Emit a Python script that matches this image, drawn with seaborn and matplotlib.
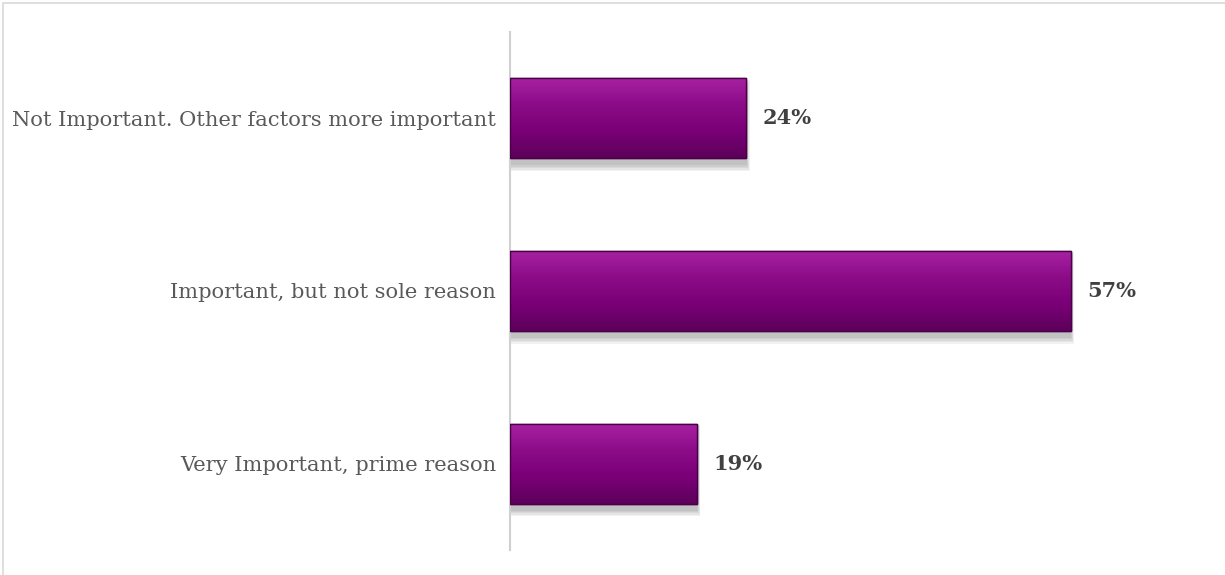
import numpy as np
import pandas as pd
import matplotlib
matplotlib.use("Agg")
import matplotlib.pyplot as plt
import seaborn as sns
from matplotlib.colors import LinearSegmentedColormap
from matplotlib.patches import Rectangle

categories = ["Not Important. Other factors more important",
              "Important, but not sole reason",
              "Very Important, prime reason"]
values = [24, 57, 19]
value_labels = ["24%", "57%", "19%"]

sns.set_theme(style="white")
plt.rcParams['font.family'] = ['DejaVu Serif']

fig = plt.figure(figsize=(12.25, 5.75), dpi=100)
ax = fig.add_axes([510/1225, 25/575, 590/1225, 518/575])

df = pd.DataFrame({"cat": categories, "val": values})
sns.barplot(data=df, x="val", y="cat", ax=ax, color="#800080", width=0.465,
            edgecolor="#4a0048", linewidth=1.0, zorder=3)

cmap = LinearSegmentedColormap.from_list("g", ["#a822a2", "#8c0c88", "#7a0077", "#5c005a"])
grad = np.linspace(0, 1, 256).reshape(-1, 1)
for p in list(ax.patches):
    x0, y0 = p.get_x(), p.get_y()
    w, h = p.get_width(), p.get_height()
    # soft shadow
    for k in range(5):
        d = 0.008 * k
        sh = Rectangle((x0 + 0.1 - d * 8, y0 + 0.04 - d), w + 2 * d * 8, h + 2 * d,
                       facecolor="#000000", alpha=0.05, edgecolor="none", zorder=2)
        ax.add_patch(sh)
    im = ax.imshow(grad, cmap=cmap, aspect="auto", extent=[x0, x0 + w, y0 + h, y0],
                   zorder=3.5, interpolation="bicubic", origin="upper")
    im.set_clip_path(p)
    ax.add_patch(Rectangle((x0, y0), w, h, facecolor="none", edgecolor="#4a0048",
                           linewidth=1.0, zorder=4))

ax.set_xlim(0, 60)
ax.set_ylim(2.5, -0.5)
ax.set_xlabel("")
ax.set_ylabel("")
ax.set_xticks([])
ax.tick_params(axis="y", length=0, pad=10, labelsize=15.1, labelcolor="#595959")
for s in ["top", "right", "bottom"]:
    ax.spines[s].set_visible(False)
ax.spines["left"].set_color("#d0d0d0")
ax.spines["left"].set_linewidth(1.5)

for i, (v, lab) in enumerate(zip(values, value_labels)):
    ax.text(v + 1.7, i, lab, va="center", ha="left", fontsize=15,
            fontweight="bold", color="#404040", zorder=5)

fig.patches.append(Rectangle((3/1225, -0.1), 1.2, 1 - 3/575 + 0.1, transform=fig.transFigure,
                             facecolor="none", edgecolor="#d9d9d9", linewidth=1.2))

fig.savefig("out.png", dpi=100)
